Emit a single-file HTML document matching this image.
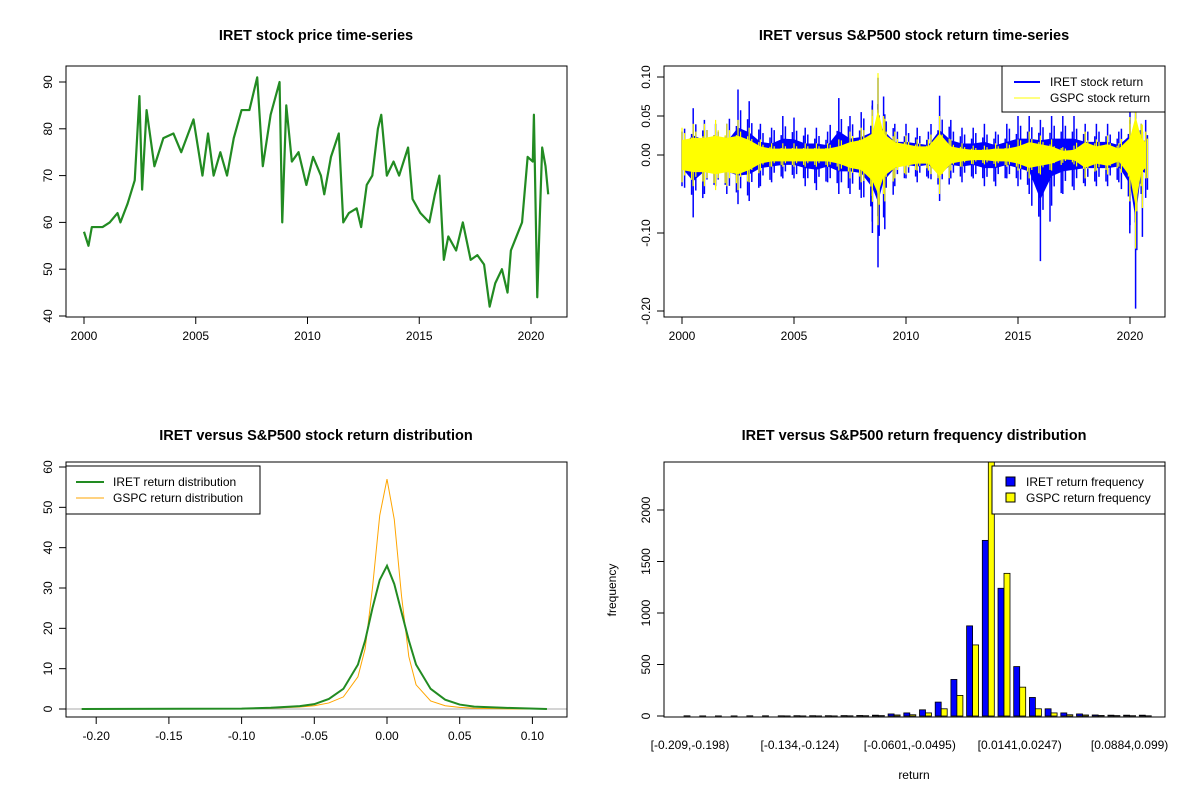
<!DOCTYPE html>
<html><head><meta charset="utf-8"><style>
body{margin:0;background:#fff;}
svg{display:block;font-family:"Liberation Sans",Arial,sans-serif;}
</style></head><body>
<svg id="s" width="1200" height="800"></svg>
<script>
// ---- data ----
const priceYears=[2000,2000.2,2000.35,2000.83,2001.15,2001.5,2001.63,2001.95,2002.27,2002.48,2002.6,2002.8,2003.15,2003.55,2004,2004.35,2004.9,2005.3,2005.55,2005.8,2006.1,2006.4,2006.7,2007.05,2007.4,2007.75,2008,2008.35,2008.75,2008.87,2009.05,2009.3,2009.6,2009.95,2010.25,2010.6,2010.75,2011.05,2011.4,2011.6,2011.85,2012.2,2012.4,2012.65,2012.9,2013.15,2013.3,2013.55,2013.85,2014.1,2014.5,2014.7,2015.05,2015.45,2015.7,2015.9,2016.1,2016.3,2016.65,2016.95,2017.3,2017.6,2017.9,2018.15,2018.4,2018.7,2018.95,2019.1,2019.35,2019.6,2019.85,2020.08,2020.13,2020.28,2020.4,2020.5,2020.65,2020.77];
const priceValues=[58,55,59,59,60,62,60,64,69,87,67,84,72,78,79,75,82,70,79,70,75,70,78,84,84,91,72,83,90,60,85,73,75,68,74,70,66,74,79,60,62,63,59,68,70,80,83,70,73,70,76,65,62,60,66,70,52,57,54,60,52,53,51,42,47,50,45,54,57,60,74,73,83,44,62,76,72,66];
const retYears=[2000,2000.5,2001,2001.5,2002,2002.5,2003,2003.5,2004,2004.5,2005,2005.5,2006,2006.5,2007,2007.5,2008,2008.5,2008.75,2009,2009.5,2010,2010.5,2011,2011.5,2012,2012.5,2013,2013.5,2014,2014.5,2015,2015.5,2016,2016.5,2017,2017.5,2018,2018.5,2019,2019.5,2020,2020.25,2020.5,2020.7];
const iretHi=[0.03,0.06,0.045,0.04,0.04,0.084,0.069,0.04,0.035,0.05,0.048,0.035,0.035,0.03,0.073,0.05,0.055,0.07,0.099,0.075,0.04,0.04,0.035,0.03,0.076,0.045,0.035,0.035,0.04,0.03,0.04,0.05,0.05,0.045,0.05,0.05,0.05,0.04,0.04,0.04,0.03,0.06,0.06,0.04,0.045];
const iretLo=[-0.04,-0.08,-0.05,-0.04,-0.05,-0.063,-0.059,-0.04,-0.035,-0.03,-0.03,-0.04,-0.045,-0.035,-0.05,-0.05,-0.055,-0.1,-0.144,-0.08,-0.04,-0.03,-0.035,-0.03,-0.059,-0.03,-0.035,-0.03,-0.04,-0.04,-0.03,-0.04,-0.05,-0.136,-0.065,-0.05,-0.045,-0.04,-0.04,-0.04,-0.035,-0.09,-0.197,-0.05,-0.055];
const gspcHi=[0.035,0.04,0.04,0.045,0.04,0.045,0.035,0.02,0.015,0.015,0.015,0.015,0.015,0.015,0.02,0.03,0.035,0.05,0.105,0.05,0.03,0.025,0.02,0.02,0.05,0.02,0.015,0.012,0.012,0.015,0.015,0.02,0.03,0.025,0.02,0.01,0.012,0.03,0.02,0.025,0.015,0.04,0.09,0.04,0.03];
const gspcLo=[-0.035,-0.04,-0.04,-0.045,-0.04,-0.045,-0.035,-0.02,-0.015,-0.015,-0.015,-0.015,-0.015,-0.015,-0.02,-0.03,-0.035,-0.06,-0.09,-0.05,-0.03,-0.025,-0.02,-0.02,-0.05,-0.02,-0.015,-0.012,-0.012,-0.015,-0.015,-0.02,-0.03,-0.025,-0.02,-0.01,-0.012,-0.03,-0.02,-0.025,-0.015,-0.05,-0.12,-0.04,-0.03];
const densX=[-0.21,-0.1,-0.08,-0.06,-0.05,-0.04,-0.03,-0.02,-0.015,-0.01,-0.005,0,0.005,0.01,0.015,0.02,0.03,0.04,0.05,0.06,0.08,0.11];
const densIret=[0,0.1,0.3,0.7,1.2,2.5,5,11,17,25,32,35.5,31,24,17,11,5,2.3,1.1,0.6,0.3,0];
const densGspc=[0,0.05,0.2,0.5,0.8,1.5,3,8,15,30,48,57,47,28,13,6,2,0.8,0.4,0.2,0.05,0];
const binLabels=["[-0.209,-0.198)","[-0.134,-0.124)","[-0.0601,-0.0495)","[0.0141,0.0247)","[0.0884,0.099)"];
const freqIret=[2,1,1,1,2,2,2,3,3,3,4,5,8,20,30,60,135,355,875,1705,1240,480,180,70,30,20,10,8,8,8];
const freqGspc=[0,0,0,0,0,0,1,1,1,1,2,3,4,10,12,30,70,200,690,2700,1385,280,70,30,12,10,5,4,3,2];

const S=document.getElementById('s');const NS='http://www.w3.org/2000/svg';
function el(tag,attrs,parent,text){const e=document.createElementNS(NS,tag);for(const k in attrs)e.setAttribute(k,attrs[k]);if(text!==undefined)e.textContent=text;(parent||S).appendChild(e);return e;}
function lin(d0,d1,r0,r1){return v=>r0+(v-d0)*(r1-r0)/(d1-d0);}
function box(x0,y0,x1,y1,name){const r=el('rect',{x:x0,y:y0,width:x1-x0,height:y1-y0,fill:'none',stroke:'#000','stroke-width':1});}
function xTicks(vals,labels,sx,y,name){const g=el('g',{});
 vals.forEach((v,i)=>{el('line',{x1:sx(v),x2:sx(v),y1:y,y2:y+7,stroke:'#000'},g);el('text',{x:sx(v),y:y+23,'font-size':12,'text-anchor':'middle'},g,labels[i]);});}
function yTicks(vals,labels,sy,x,name){const g=el('g',{});
 vals.forEach((v,i)=>{const y=sy(v);el('line',{x1:x-7,x2:x,y1:y,y2:y,stroke:'#000'},g);el('text',{x:x-14,y:y,'font-size':12,'text-anchor':'middle',transform:`rotate(-90 ${x-14} ${y})`},g,labels[i]);});}
function title(x,y,t,name){const e=el('text',{x:x,y:y,'font-size':14.5,'font-weight':'bold','text-anchor':'middle'},S,t);}
function poly(xs,ys,sx,sy,attrs,name){const p=el('polyline',Object.assign({points:xs.map((x,i)=>sx(x)+','+sy(ys[i])).join(' '),fill:'none'},attrs));return p;}

// ---- panel 1 ----
{const sx=lin(2000,2020,84,531),sy=lin(40,90,316,82);
 title(316,40,'IRET stock price time-series','price-title');
 poly(priceYears,priceValues,sx,sy,{stroke:'#228B22','stroke-width':2.2,'stroke-linejoin':'round'},'price-line');
 box(66,66,567,317,'price-plot-frame');
 xTicks([2000,2005,2010,2015,2020],['2000','2005','2010','2015','2020'],sx,317,'price-x-axis');
 yTicks([40,50,60,70,80,90],['40','50','60','70','80','90'],sy,66,'price-y-axis');}

// ---- panel 2 ----
{const sx=lin(2000,2020,682,1130),sy=lin(0,0.1,155,77);
 title(914,40,'IRET versus S&P500 stock return time-series','return-title');
 function band(hi,lo,col,name,k,sw){
  const g=el('g',{});
  const pts=retYears.map((x,i)=>sx(x)+','+sy(hi[i]*k)).concat(retYears.map((x,i)=>sx(x)+','+sy(lo[i]*k)).reverse());
  el('polygon',{points:pts.join(' '),fill:col},g);
  retYears.forEach((x,i)=>{el('line',{x1:sx(x),x2:sx(x),y1:sy(hi[i]),y2:sy(lo[i]),stroke:col,'stroke-width':sw},g);
   if(i<retYears.length-1){const xm=(sx(x)+sx(retYears[i+1]))/2;el('line',{x1:xm-3,x2:xm-3,y1:sy((hi[i]+hi[i+1])/2*0.75),y2:sy((lo[i]+lo[i+1])/2*0.7),stroke:col,'stroke-width':sw},g);
    el('line',{x1:xm+4,x2:xm+4,y1:sy((hi[i]+hi[i+1])/2*0.6),y2:sy((lo[i]+lo[i+1])/2*0.85),stroke:col,'stroke-width':sw},g);}});
 }
 band(iretHi,iretLo,'#0000FF','iret-return-series',0.42,1.5);
 band(gspcHi,gspcLo,'#FFFF00','gspc-return-series',0.55,1.2);
 box(664,66,1165,317,'return-plot-frame');
 xTicks([2000,2005,2010,2015,2020],['2000','2005','2010','2015','2020'],sx,317,'return-x-axis');
 yTicks([-0.2,-0.1,0,0.05,0.1],['-0.20','-0.10','0.00','0.05','0.10'],sy,664,'return-y-axis');
 const lg=el('g',{});
 el('rect',{x:1002,y:66,width:163,height:46,fill:'#fff',stroke:'#000'},lg);
 el('line',{x1:1014,x2:1040,y1:82,y2:82,stroke:'#0000FF','stroke-width':2},lg);
 el('line',{x1:1014,x2:1040,y1:98,y2:98,stroke:'#FFFF00','stroke-width':1},lg);
 el('text',{x:1050,y:86,'font-size':12},lg,'IRET stock return');
 el('text',{x:1050,y:102,'font-size':12},lg,'GSPC stock return');}

// ---- panel 3 ----
{const sx=lin(0,0.05,387,459.7),sy=lin(0,60,709,467);
 title(316,440,'IRET versus S&P500 stock return distribution','density-title');
 el('line',{x1:66,x2:567,y1:sy(0),y2:sy(0),stroke:'#aaa','stroke-width':1});
 poly(densX,densGspc,sx,sy,{stroke:'#FFA500','stroke-width':1},'gspc-density-line');
 poly(densX,densIret,sx,sy,{stroke:'#228B22','stroke-width':2},'iret-density-line');
 box(66,462,567,717,'density-plot-frame');
 xTicks([-0.2,-0.15,-0.1,-0.05,0,0.05,0.1],['-0.20','-0.15','-0.10','-0.05','0.00','0.05','0.10'],sx,717,'density-x-axis');
 yTicks([0,10,20,30,40,50,60],['0','10','20','30','40','50','60'],sy,66,'density-y-axis');
 const lg=el('g',{});
 el('rect',{x:66,y:466,width:194,height:48,fill:'#fff',stroke:'#000'},lg);
 el('line',{x1:76,x2:104,y1:482,y2:482,stroke:'#228B22','stroke-width':2},lg);
 el('line',{x1:76,x2:104,y1:498,y2:498,stroke:'#FFA500','stroke-width':1},lg);
 el('text',{x:113,y:486,'font-size':12},lg,'IRET return distribution');
 el('text',{x:113,y:502,'font-size':12},lg,'GSPC return distribution');}

// ---- panel 4 ----
{const bw=15.7,x0=690,sy=lin(0,2000,716,510);
 title(914,440,'IRET versus S&P500 return frequency distribution','frequency-title');
 const clip=el('clipPath',{id:'c4'});el('rect',{x:664,y:462,width:501,height:255},clip);
 const g=el('g',{'clip-path':'url(#c4)'});
 const w1=6;
 freqIret.forEach((v,i)=>{const c=x0+i*bw;
  const b1=el('rect',{x:c-w1,y:sy(v),width:w1,height:sy(0)-sy(v),fill:'#0000FF',stroke:'#000','stroke-width':0.8},g);
  
  const w=freqGspc[i];
  const b2=el('rect',{x:c,y:sy(w),width:w1,height:sy(0)-sy(w),fill:'#FFFF00',stroke:'#000','stroke-width':0.8},g);
  });
 box(664,462,1165,717,'frequency-plot-frame');
 const xa=el('g',{});
 binLabels.forEach((t,i)=>el('text',{x:x0+i*7*bw,y:749,'font-size':12,'text-anchor':'middle'},xa,t));
 yTicks([0,500,1000,1500,2000],['0','500','1000','1500','2000'],sy,664,'frequency-y-axis');
 const xt=el('text',{x:914,y:779,'font-size':12,'text-anchor':'middle'},S,'return');
 const yt=el('text',{x:616,y:590,'font-size':12,'text-anchor':'middle',transform:'rotate(-90 616 590)'},S,'frequency');
 const lg=el('g',{});
 el('rect',{x:992,y:466,width:173,height:48,fill:'#fff',stroke:'#000'},lg);
 el('rect',{x:1006,y:477,width:9,height:9,fill:'#0000FF',stroke:'#000'},lg);
 el('rect',{x:1006,y:493,width:9,height:9,fill:'#FFFF00',stroke:'#000'},lg);
 el('text',{x:1026,y:486,'font-size':12},lg,'IRET return frequency');
 el('text',{x:1026,y:502,'font-size':12},lg,'GSPC return frequency');}
</script>
</body></html>
